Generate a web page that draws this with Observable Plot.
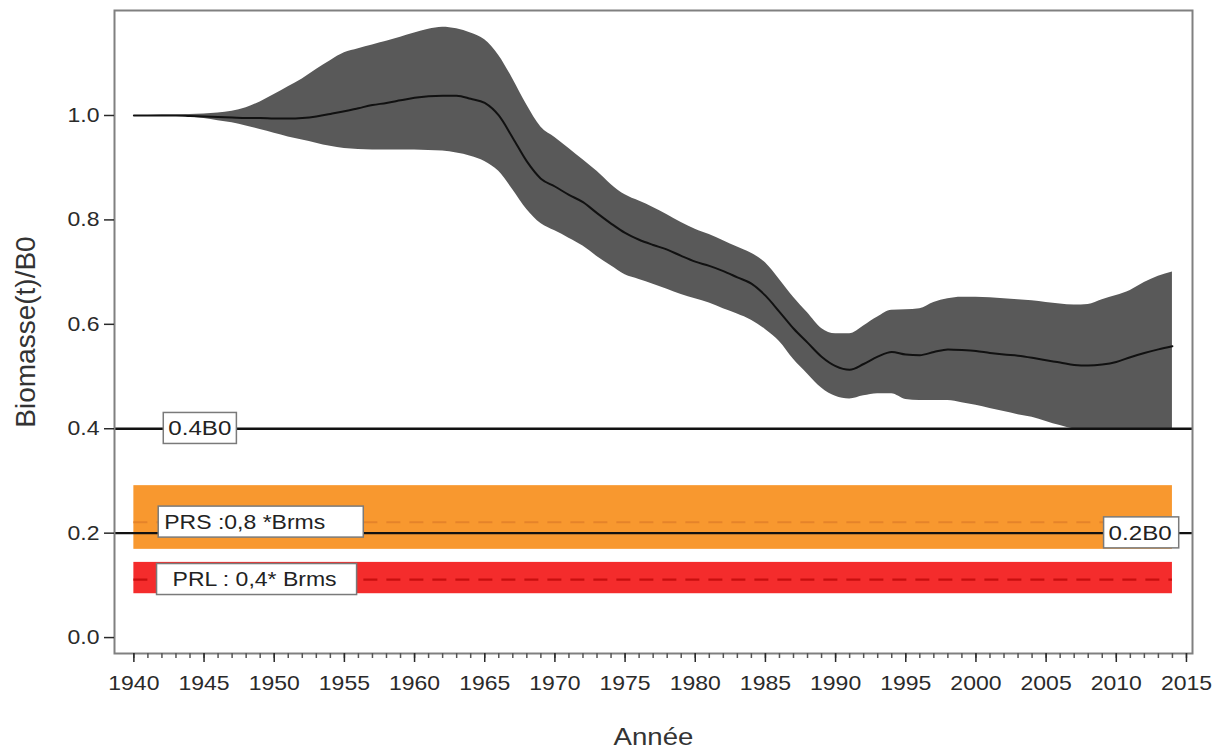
<!DOCTYPE html>
<html><head><meta charset="utf-8">
<script src="https://cdn.jsdelivr.net/npm/d3@7"></script>
<script src="https://cdn.jsdelivr.net/npm/@observablehq/plot@0.6"></script>
<style>body{margin:0;background:#fff;} svg{display:block;}</style>
</head><body>
<div id="chart"></div>
<script>
// ---- data ----
const years = [1940,1941,1942,1943,1944,1945,1946,1947,1948,1949,1950,1951,1952,1953,1954,1955,1956,1957,1958,1959,1960,1961,1962,1963,1964,1965,1966,1967,1968,1969,1970,1971,1972,1973,1974,1975,1976,1977,1978,1979,1980,1981,1982,1983,1984,1985,1986,1987,1988,1989,1990,1991,1992,1993,1994,1995,1996,1997,1998,1999,2000,2001,2002,2003,2004,2005,2006,2007,2008,2009,2010,2011,2012,2013,2014];
const biomass = [1.000,1.000,1.000,1.000,0.999,0.998,0.997,0.996,0.995,0.995,0.994,0.994,0.995,0.998,1.003,1.008,1.014,1.020,1.024,1.029,1.034,1.037,1.038,1.038,1.032,1.024,1.000,0.957,0.912,0.879,0.864,0.848,0.834,0.813,0.793,0.775,0.762,0.752,0.743,0.731,0.720,0.712,0.702,0.690,0.678,0.655,0.624,0.592,0.565,0.538,0.520,0.513,0.524,0.538,0.547,0.542,0.541,0.547,0.552,0.551,0.549,0.545,0.542,0.540,0.536,0.531,0.527,0.522,0.521,0.523,0.528,0.537,0.545,0.552,0.558];
const lower = [1.000,1.000,1.000,0.999,0.997,0.994,0.990,0.986,0.980,0.973,0.966,0.959,0.953,0.947,0.941,0.937,0.935,0.934,0.934,0.934,0.934,0.933,0.932,0.928,0.922,0.912,0.893,0.858,0.820,0.793,0.779,0.765,0.750,0.730,0.712,0.695,0.686,0.677,0.667,0.657,0.649,0.641,0.630,0.620,0.608,0.590,0.567,0.533,0.505,0.478,0.462,0.457,0.463,0.467,0.467,0.456,0.454,0.454,0.454,0.450,0.445,0.439,0.433,0.427,0.422,0.414,0.406,0.400,0.400,0.400,0.400,0.400,0.400,0.400,0.400];
const upper = [1.000,1.000,1.001,1.001,1.002,1.003,1.005,1.008,1.015,1.026,1.040,1.055,1.070,1.088,1.105,1.120,1.128,1.135,1.142,1.150,1.158,1.165,1.169,1.166,1.158,1.145,1.115,1.070,1.020,0.978,0.958,0.937,0.915,0.893,0.868,0.848,0.836,0.824,0.810,0.795,0.782,0.772,0.760,0.748,0.736,0.718,0.686,0.652,0.622,0.592,0.582,0.582,0.597,0.614,0.627,0.628,0.630,0.642,0.649,0.652,0.652,0.651,0.649,0.647,0.645,0.642,0.639,0.637,0.638,0.647,0.655,0.665,0.680,0.692,0.700];

const yTicks = [0.0, 0.2, 0.4, 0.6, 0.8, 1.0];
const xTicks = [1940,1945,1950,1955,1960,1965,1970,1975,1980,1985,1990,1995,2000,2005,2010,2015];
const xMinorTicks = [1940,1941,1942,1943,1944,1945,1946,1947,1948,1949,1950,1951,1952,1953,1954,1955,1956,1957,1958,1959,1960,1961,1962,1963,1964,1965,1966,1967,1968,1969,1970,1971,1972,1973,1974,1975,1976,1977,1978,1979,1980,1981,1982,1983,1984,1985,1986,1987,1988,1989,1990,1991,1992,1993,1994,1995,1996,1997,1998,1999,2000,2001,2002,2003,2004,2005,2006,2007,2008,2009,2010,2011,2012,2013,2014,2015];

const refLevels = [0.4, 0.2];
const refNames = ["0.4B0", "0.2B0"];
const refLabelX = [1944.7, 2011.7];

const zoneNames = ["PRS :0,8 *Brms", "PRL : 0,4* Brms"];
const zoneLow = [0.169, 0.084];
const zoneHigh = [0.291, 0.144];
const zoneLine = [0.221, 0.111];
const zoneStart = [1940, 1940];
const zoneEnd = [2014, 2014];
const zoneLabelX = [1947.9, 1948.6];

const xTitle = "Année";
const yTitle = "Biomasse(t)/B0";

// ---- tables ----
const series = years.map((yr, i) => ({year: yr, mean: biomass[i], lo: lower[i], hi: upper[i]}));
const zones = zoneNames.map((n, i) => ({name: n, low: zoneLow[i], high: zoneHigh[i], line: zoneLine[i], start: zoneStart[i], end: zoneEnd[i], lx: zoneLabelX[i]}));
const refs = refLevels.map((v, i) => ({value: v, name: refNames[i], lx: refLabelX[i]}));

const FONT = "'Liberation Sans', Arial, sans-serif";

const plot = Plot.plot({
  width: 1220,
  height: 748,
  marginLeft: 114,
  marginRight: 28,
  marginTop: 10,
  marginBottom: 95,
  style: {fontFamily: FONT, background: "#fff", overflow: "visible"},
  x: {domain: [1938.62, 2015.43]},
  y: {domain: [-0.0305, 1.2011]},
  marks: [
    Plot.rect([zones[0]], {x1: "start", x2: "end", y1: "low", y2: "high", fill: "#F8982F"}),
    Plot.rect([zones[1]], {x1: "start", x2: "end", y1: "low", y2: "high", fill: "#F42C2C"}),
    Plot.ruleY([zones[0]], {y: "line", x1: "start", x2: "end", stroke: "#E5832A", strokeWidth: 2, strokeDasharray: "14,9"}),
    Plot.ruleY([zones[1]], {y: "line", x1: "start", x2: "end", stroke: "#C80F0F", strokeWidth: 2.2, strokeDasharray: "14,9"}),
    Plot.areaY(series, {x: "year", y1: "lo", y2: "hi", fill: "#595959", curve: "monotone-x"}),
    Plot.lineY(series, {x: "year", y: "mean", stroke: "#111", strokeWidth: 2, curve: "monotone-x"}),
    Plot.ruleY(refs, {y: "value", stroke: "#111", strokeWidth: 2.4}),
    Plot.frame({stroke: "#808080", strokeWidth: 2}),
    Plot.axisY(yTicks, {tickSize: 10, tickPadding: 5, tickFormat: d3.format(".1f"), fontSize: 20, color: "#2a2a2a", strokeWidth: 1.5, label: null}),
    Plot.axisX(xMinorTicks, {tickSize: 5, tickFormat: null, text: null, color: "#555", strokeWidth: 1.5, label: null}),
    Plot.axisX(xTicks, {tickSize: 9, tickPadding: 13, tickFormat: d3.format("d"), fontSize: 20, color: "#2a2a2a", strokeWidth: 1.5, label: null}),
    Plot.text(refs, {x: "lx", y: "value", text: "name", fontSize: 21, fill: "#222", textAnchor: "middle", lineAnchor: "middle"}),
    Plot.text(zones, {x: "lx", y: "line", text: "name", fontSize: 20, fill: "#222", textAnchor: "middle", lineAnchor: "middle"}),
    Plot.text([xTitle], {frameAnchor: "bottom", dy: 84, fontSize: 24, fill: "#333", textAnchor: "middle", lineAnchor: "middle"}),
    Plot.text([yTitle], {frameAnchor: "left", dx: -88, rotate: -90, fontSize: 28, fill: "#333", textAnchor: "middle", lineAnchor: "middle"})
  ]
});

document.getElementById("chart").appendChild(plot);

// horizontal stretch of text (reference glyphs are widened) + boxes behind labels
const STRETCH = 1.15;
const boxPad = {
  "0.4B0": [5, 5], "0.2B0": [5, 7],
  "PRS :0,8 *Brms": [6, 38], "PRL : 0,4* Brms": [16, 20]
};
plot.querySelectorAll("text").forEach(t => {
  const tr = t.getAttribute("transform") || "";
  if (tr.includes("rotate")) return;
  const b = t.getBBox();
  const anchor = getComputedStyle(t).textAnchor;
  const ax = anchor === "middle" ? b.x + b.width / 2 : anchor === "end" ? b.x + b.width : b.x;
  t.setAttribute("transform", `${tr} translate(${ax},0) scale(${STRETCH},1) translate(${-ax},0)`);
  const pad = boxPad[t.textContent];
  if (pad) {
    const x0 = ax + (b.x - ax) * STRETCH;
    const w = b.width * STRETCH;
    const cy = b.y + b.height / 2;
    const h = 31;
    const r = document.createElementNS("http://www.w3.org/2000/svg", "rect");
    r.setAttribute("x", x0 - pad[0]);
    r.setAttribute("y", cy - h / 2);
    r.setAttribute("width", w + pad[0] + pad[1]);
    r.setAttribute("height", h);
    r.setAttribute("fill", "#fff");
    r.setAttribute("stroke", "#7a7a7a");
    r.setAttribute("stroke-width", "1.5");
    if (tr) r.setAttribute("transform", tr);
    t.parentNode.insertBefore(r, t);
  }
});
</script>
</body></html>
